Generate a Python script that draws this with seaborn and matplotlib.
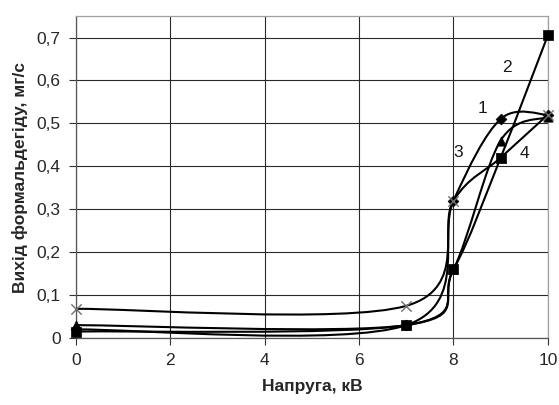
import numpy as np
import pandas as pd
import matplotlib
matplotlib.use("Agg")
import matplotlib.pyplot as plt
from matplotlib.path import Path
from matplotlib.patches import PathPatch
from matplotlib.ticker import FuncFormatter
import seaborn as sns

# ---- data ----
voltage = [0, 7, 8, 9, 10]
series_names = ["1", "2", "3", "4"]
yield_1 = [0.020, 0.030, 0.320, 0.510, 0.520]
yield_2 = [0.015, 0.030, 0.160, 0.420, 0.705]
yield_3 = [0.030, 0.030, 0.160, 0.460, 0.515]
yield_4 = [0.068, 0.075, 0.320, 0.420, 0.520]
x_ticks = [0, 2, 4, 6, 8, 10]
y_ticks = [0, 0.1, 0.2, 0.3, 0.4, 0.5, 0.6, 0.7]

series_values = [yield_1, yield_2, yield_3, yield_4]
rows = []
for name, vals in zip(series_names, series_values):
    for xv, yv in zip(voltage, vals):
        rows.append({"x": xv, "y": yv, "series": name})
df = pd.DataFrame(rows)

sns.set_style("white")
plt.rcParams["font.family"] = ["Liberation Sans", "DejaVu Sans"]

fig = plt.figure(figsize=(5.59, 4.05), dpi=100)
ax = fig.add_axes([0.136, 0.1654, 0.844, 0.795])


def smooth_path(xs, ys):
    """Excel-like smoothed line: cubic Bezier through the data points."""
    P = np.column_stack([xs, ys]).astype(float)
    n = len(P)
    verts = [tuple(P[0])]
    codes = [Path.MOVETO]
    for i in range(n - 1):
        p_prev = P[i - 1] if i > 0 else P[i]
        p_next2 = P[i + 2] if i + 2 < n else P[i + 1]
        c1 = P[i] + (P[i + 1] - p_prev) / 6.0
        c2 = P[i + 1] - (p_next2 - P[i]) / 6.0
        verts += [tuple(c1), tuple(c2), tuple(P[i + 1])]
        codes += [Path.CURVE4] * 3
    return Path(verts, codes)


for name in series_names:
    sub = df[df["series"] == name]
    patch = PathPatch(smooth_path(sub["x"].values, sub["y"].values),
                      facecolor="none", edgecolor="black", lw=1.5,
                      zorder=3, capstyle="round", joinstyle="round")
    ax.add_patch(patch)

markers = {"1": "D", "2": "s", "3": "^"}
sizes = {"1": 30, "2": 55, "3": 45, "4": 55}
zorders = {"1": 4, "2": 6, "3": 4}
for name in ["3", "1"]:
    sub = df[df["series"] == name]
    sns.scatterplot(data=sub, x="x", y="y", marker=markers[name],
                    s=sizes[name], color="black", edgecolor="black",
                    linewidth=0.5, ax=ax, zorder=zorders[name], legend=False)
sub4 = df[df["series"] == "4"]
sns.scatterplot(data=sub4, x="x", y="y", marker="x", s=sizes["4"],
                color="#6f6f6f", linewidth=1.0, ax=ax, zorder=5, legend=False)
sub2 = df[df["series"] == "2"]
sns.scatterplot(data=sub2, x="x", y="y", marker="s", s=sizes["2"],
                color="black", edgecolor="black", linewidth=0.5, ax=ax,
                zorder=6, legend=False)
for coll in ax.collections:
    coll.set_clip_on(False)

ax.set_xlim(0, 10)
ax.set_ylim(0, 0.75)
ax.set_xticks(x_ticks)
ax.set_yticks(y_ticks)
ax.yaxis.set_major_formatter(FuncFormatter(
    lambda v, p: "0" if abs(v) < 1e-9 else f"{v:.1f}".replace(".", ",")))
ax.xaxis.set_major_formatter(FuncFormatter(lambda v, p: f"{v:g}"))

ax.grid(True, color="#2a2a2a", lw=0.8)
ax.set_axisbelow(True)
for side in ["top", "right"]:
    ax.spines[side].set_color("#a0a0a0")
    ax.spines[side].set_linewidth(0.9)
for side in ["left", "bottom"]:
    ax.spines[side].set_color("#555555")
    ax.spines[side].set_linewidth(0.9)

ax.tick_params(axis="both", direction="out", length=5, width=0.8,
               color="#333333", labelsize=12.5, pad=6, bottom=True, left=True)

ax.set_xlabel("Напруга, кВ", fontsize=12.5, fontweight="bold", labelpad=8)
ax.set_ylabel("Вихід формальдегіду, мг/с", fontsize=12.5, fontweight="bold",
              labelpad=6)

label_pos = {"1": (8.62, 0.534), "2": (9.13, 0.630), "3": (8.09, 0.432),
             "4": (9.51, 0.430)}
for name, (tx, ty) in label_pos.items():
    ax.text(tx, ty, name, fontsize=12.5, ha="center", va="center",
            color="#1a1a1a", zorder=7)

fig.savefig("out.png", dpi=100)
